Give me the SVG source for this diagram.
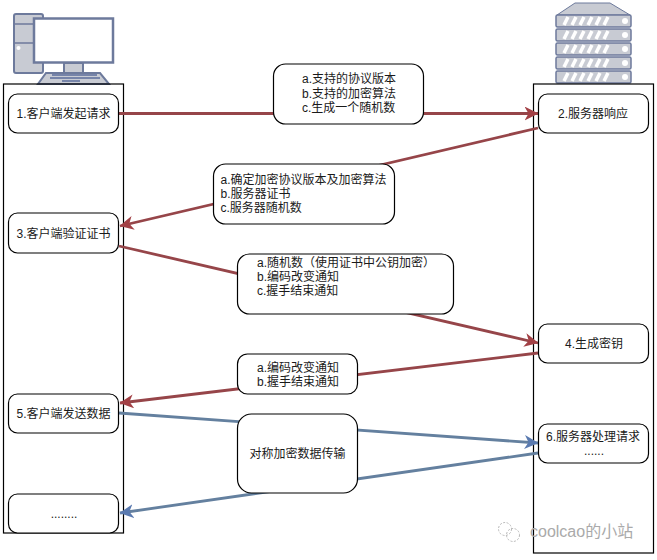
<svg xmlns="http://www.w3.org/2000/svg" width="657" height="560" viewBox="0 0 657 560">
<style>
text{font-family:"Liberation Sans","Noto Sans CJK SC",sans-serif;font-size:12px;fill:#1a1a1a}
.c{text-anchor:middle}
.box{fill:#fff;stroke:#000;stroke-width:1.2}
.life{fill:none;stroke:#000;stroke-width:1.2}
.r{stroke:#964549;stroke-width:2.800;fill:none;marker-end:url(#ar)}
.b{stroke:#64809f;stroke-width:2.800;fill:none;marker-end:url(#ab)}
.ic{fill:#c8cbd3;stroke:#6d7a9c;stroke-width:2}
.row{fill:#c8cbd3;stroke:#6d7a9c;stroke-width:1.500}
</style>
<defs>
<marker id="ar" viewBox="0 0 14 14" refX="13.500" refY="7" markerWidth="14" markerHeight="14" markerUnits="userSpaceOnUse" orient="auto"><path d="M0 0L14 7L0 14L4 7Z" fill="#a24045"/></marker>
<marker id="ab" viewBox="0 0 14 14" refX="13.500" refY="7" markerWidth="14" markerHeight="14" markerUnits="userSpaceOnUse" orient="auto"><path d="M0 0L14 7L0 14L4 7Z" fill="#5a7ab0"/></marker>
<g id="srow">
<rect class="row" x="556" y="15" width="75" height="12" rx="1.500"/>
<path d="M564 25L568 17M572 25L576 17M580 25L584 17M588 25L592 17M596 25L600 17M604 25L608 17" stroke="#fff" stroke-width="3.500" fill="none"/>
<circle cx="625" cy="21" r="3" fill="#fff"/>
</g>
</defs>
<rect width="657" height="560" fill="#fff"/>
<g id="client-icon">
<rect class="ic" x="14" y="14" width="29" height="59" rx="2"/>
<path d="M14 24H43M14 43H43" stroke="#6d7a9c" stroke-width="1.500" fill="none"/>
<circle cx="18.500" cy="48" r="2" fill="#fff"/>
<rect x="34" y="18.500" width="79" height="44" fill="#fff" stroke="#6d7a9c" stroke-width="2.500"/>
<rect class="ic" x="64" y="63" width="19" height="10"/>
<path d="M46 73H100L109 84H38Z" class="ic" stroke-width="1"/>
<path d="M52 75H97M50 78H100M62 81H80" stroke="#5b6d9c" stroke-width="1.500" fill="none"/>
</g>
<g id="server-icon">
<path d="M557 15L575 3H610L630 15Z" fill="#c8cbd3" stroke="#6d7a9c"/>
<use href="#srow"/>
<use href="#srow" y="14"/>
<use href="#srow" y="28"/>
<use href="#srow" y="42"/>
<use href="#srow" y="56"/>
</g>
<g id="client-lifeline"><rect class="life" x="3.500" y="84" width="120" height="449"/></g>
<g id="server-lifeline"><rect class="life" x="533.500" y="84" width="120" height="469"/></g>
<g id="connectors">
<path class="r" d="M119 113.500H538"/>
<path class="r" d="M538 128L120 226"/>
<path class="r" d="M119 246L538 343"/>
<path class="r" d="M538 353L120 403"/>
<path class="b" d="M119 413L538 443"/>
<path class="b" d="M538 453L120 513"/>
</g>
<g id="n1"><rect class="box" x="8.500" y="94" width="110" height="39" rx="9"/><text class="c" x="63.500" y="118">1.客户端发起请求</text></g>
<g id="n2"><rect class="box" x="538.500" y="94" width="110" height="39" rx="9"/><text class="c" x="593" y="118">2.服务器响应</text></g>
<g id="n3"><rect class="box" x="8.500" y="213" width="110" height="40" rx="9"/><text class="c" x="63.500" y="237.500">3.客户端验证证书</text></g>
<g id="n4"><rect class="box" x="538.500" y="324" width="110" height="39" rx="9"/><text class="c" x="594" y="348">4.生成密钥</text></g>
<g id="n5"><rect class="box" x="8.500" y="394" width="110" height="39" rx="9"/><text class="c" x="63.500" y="417.500">5.客户端发送数据</text></g>
<g id="n6"><rect class="box" x="538.500" y="424" width="110" height="39" rx="9"/><text class="c" x="593" y="441">6.服务器处理请求</text><text class="c" x="594" y="455">......</text></g>
<g id="n7"><rect class="box" x="8.500" y="494" width="110" height="39" rx="9"/><text class="c" x="64" y="518">........</text></g>
<g id="m1"><rect class="box" x="273.500" y="64" width="150" height="60" rx="12"/><text x="302" y="83">a.支持的协议版本</text><text x="302" y="97.500">b.支持的加密算法</text><text x="302" y="112">c.生成一个随机数</text></g>
<g id="m2"><rect class="box" x="213.500" y="164" width="181" height="60" rx="12"/><text x="220.500" y="184">a.确定加密协议版本及加密算法</text><text x="220.500" y="198">b.服务器证书</text><text x="220.500" y="212">c.服务器随机数</text></g>
<g id="m3"><rect class="box" x="237.500" y="254" width="216" height="60" rx="12"/><text x="257" y="267">a.随机数（使用证书中公钥加密）</text><text x="257" y="281">b.编码改变通知</text><text x="257" y="295">c.握手结束通知</text></g>
<g id="m4"><rect class="box" x="237.500" y="354" width="120" height="40" rx="10"/><text x="257" y="371.500">a.编码改变通知</text><text x="257" y="385.500">b.握手结束通知</text></g>
<g id="m5"><rect class="box" x="237.500" y="414" width="120" height="79" rx="14"/><text class="c" x="297.500" y="458">对称加密数据传输</text></g>
<g id="watermark"><g fill="none" stroke="#b8b8b8" stroke-width="1" stroke-dasharray="2 1.500"><circle cx="505" cy="529" r="6.500"/><circle cx="513" cy="535" r="6.500"/></g><text x="530" y="537" style="font-size:16px;fill:#aaa">coolcao的小站</text></g>
</svg>
